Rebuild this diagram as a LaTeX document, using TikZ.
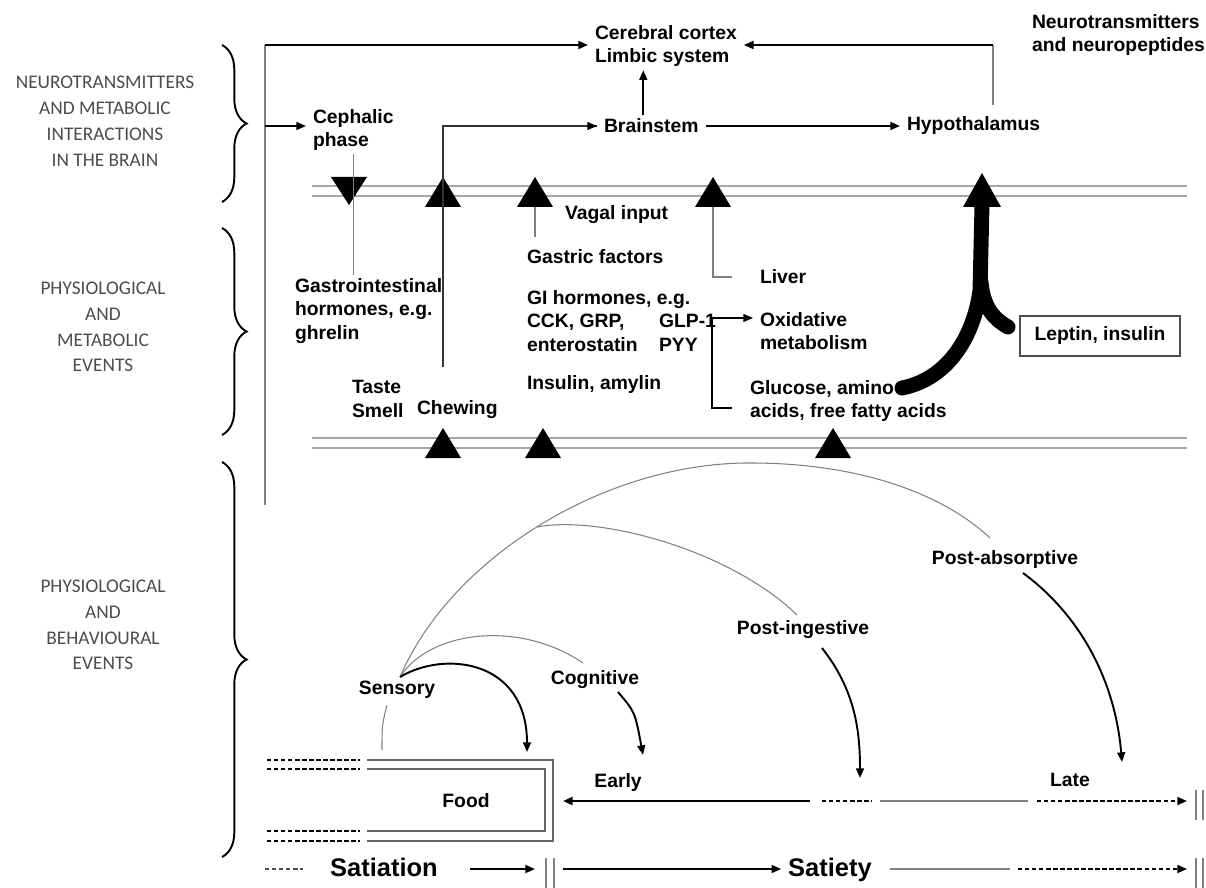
\documentclass[tikz,border=0pt]{standalone}
\usepackage{fontspec}
\setmainfont{Liberation Sans}
\newfontfamily\calibri{Carlito}
\usetikzlibrary{arrows.meta,decorations.pathreplacing}

\tikzset{
  txt/.style={anchor=west, align=left, inner sep=0pt, outer xsep=4pt, outer ysep=2pt, font=\bfseries\fontsize{11}{13.4}\selectfont},
  zone/.style={align=center, inner sep=0pt, text=black!70, font=\calibri\fontsize{11}{14.7}\selectfont},
  gros/.style={anchor=base, inner sep=0pt, outer xsep=4pt, font=\bfseries\fontsize{14.5}{17}\selectfont},
  fil/.style={draw=gray, line width=0.6pt},
  pointe/.style={-{Triangle[length=5.5pt,width=4.5pt]}},
  fleche/.style={line width=1.1pt, pointe},
  accolade/.style={decorate, decoration={brace, amplitude=14pt}, line width=1.1pt},
  membrane/.style={draw=gray!70, line width=0.8pt},
  tirets/.style={line width=1.1pt, dash pattern=on 2.5pt off 1.5pt},
  bord/.style={draw=black!60, line width=0.9pt},
}

\begin{document}
\begin{tikzpicture}[x=0.02cm, y=-0.02cm] % une unite = un pixel de l'image

\useasboundingbox (0,0) rectangle (1206,888);

% les trois niveaux
\draw[accolade] (222,45) -- (222,202);
\draw[accolade] (222,228) -- (222,435);
\draw[accolade] (222,462) -- (222,857);
\node[zone] (cerveau) at (105,121) {NEUROTRANSMITTERS\\AND METABOLIC\\INTERACTIONS\\IN THE BRAIN};
\node[zone] (physio) at (103,327) {PHYSIOLOGICAL\\AND\\METABOLIC\\EVENTS};
\node[zone] (comport) at (103,625) {PHYSIOLOGICAL\\AND\\BEHAVIOURAL\\EVENTS};

% cerveau
\node[txt] (cortex) at (588,46) {Cerebral cortex\\Limbic system};
\node[txt] (neuro) at (1025,35) {Neurotransmitters\\and neuropeptides};
\node[txt] (cephal) at (306,130) {Cephalic\\phase};
\node[txt] (tronc) at (597,126) {Brainstem};
\node[txt] (hypo) at (900,126) {Hypothalamus};

% evenements physiologiques
\node[txt] (vagal) at (558,215) {Vagal input};
\node[txt] (gastric) at (520,257) {Gastric factors};
\node[txt] (foie) at (753,277) {Liver};
\node[txt] (gihorm) at (288,311) {Gastrointestinal\\hormones, e.g.\\ghrelin};
\node[txt] (gi) at (520,321) {GI hormones, e.g.\\CCK, GRP,\\enterostatin};
\node[txt] (glp) at (652,333) {GLP-1\\PYY};
\node[txt] (oxid) at (753,331) {Oxidative\\metabolism};
\node[txt] (glucose) at (743,401) {Glucose, amino\\acids, free fatty acids};
\node[txt] (insulin) at (520,385) {Insulin, amylin};
\node[txt] (gout) at (345,399) {Taste\\Smell};
\node[txt] (mastic) at (410,410) {Chewing};
\node[draw=black!70, line width=0.7pt, minimum width=3.2cm, minimum height=0.8cm, font=\bfseries\fontsize{11}{13.4}\selectfont] (leptin) at (1100,336) {Leptin, insulin};

% evenements comportementaux
\node[txt, anchor=center] (sensory) at (397,690) {Sensory};
\node[txt, anchor=center] (cognitive) at (595,680) {Cognitive};
\node[txt, anchor=center] (postingest) at (803,630) {Post-ingestive};
\node[txt, anchor=center] (postabs) at (1005,559) {Post-absorptive};
\node[txt, anchor=center] (early) at (618,782) {Early};
\node[txt, anchor=center] (late) at (1070,780) {Late};
\node[txt, anchor=center] (food) at (466,801) {Food};
\node[gros] (satiation) at (384,876) {Satiation};
\node[gros] (satiety) at (830,876) {Satiety};

% membranes et triangles
\draw[membrane] (312,186) -- (1187,186) (312,196) -- (1187,196);
\draw[membrane] (312,438) -- (1187,438) (312,448) -- (1187,448);
\fill (331,177) -- (367,177) -- (349,205) -- cycle;
\foreach \x in {443,535,713}
  \fill (\x-18,207) -- (\x,177) -- (\x+18,207) -- cycle;
\foreach \x in {443,543,833}
  \fill (\x-18,458) -- (\x,428) -- (\x+18,458) -- cycle;
\fill (963,207) -- (982,173) -- (1001,207) -- cycle;

% fleches du haut
\coordinate (haut) at (265,45);
\coordinate (bas) at (265,505);
\coordinate (cote) at (265,126);
\coordinate (neurobas) at (993,105);
\draw[fil] (bas) -- (haut);
\draw[fleche] (haut) -- (haut -| cortex.west);
\draw[fleche] (cote) -- (cote -| cephal.west);
\draw[fil] (neurobas) -- (neurobas |- haut);
\draw[fleche] (neurobas |- haut) -- (haut -| cortex.east);
\draw[fleche] ([xshift=-0.16cm]tronc.north) -- ([xshift=-0.16cm]tronc.north |- cortex.south);
\draw[fleche] (tronc.east) -- (hypo.west);

% liaisons verticales
\coordinate (mastichaut) at (443,367);
\draw[line width=0.8pt, draw=black!80] (mastichaut) |- (tronc.west |- cote);
\draw[fleche, line width=0.8pt] (tronc.west |- cote) ++(-2,0) -- (tronc.west |- cote);
\draw[fil] (cephal.south) -- (cephal.south |- gihorm.north);
\coordinate (vag) at (535,237);
\draw[fil] (vag) -- (535,207);
\coordinate (foiefin) at (732,277);
\draw[fil] (713,207) |- (foiefin);
\coordinate (glu) at (732,408);
\coordinate (glp1) at (712,318);
\draw[line width=0.8pt] (glu) -| (glp1);
\draw[fleche, line width=0.8pt] (glp1) -- (glp1 -| oxid.west);

% grosse fleche vers l'hypothalamus
\coordinate (glufin) at (902,388);
\coordinate (lepfin) at (1008,327);
\draw[line width=8.5pt, line cap=round] (glufin) .. controls (952,378) and (975,330) .. (980,290) -- (982,205);
\draw[line width=8.5pt, line cap=round] (lepfin) .. controls (992,318) and (983,305) .. (981,282);

% arcs
\coordinate (s0) at (400,677);
\coordinate (noeud) at (537,527);
\draw[fil] (s0) .. controls (450,560) and (600,465) .. (745,463) .. controls (870,462) and (950,500) .. (990,538);
\draw[fil] (noeud) .. controls (600,515) and (730,550) .. (797,615);
\draw[fil] (s0) .. controls (430,630) and (520,620) .. (583,663);
\draw[fil] (387,705) .. controls (382,725) .. (382,750);
\draw[fleche] (s0) .. controls (445,650) and (527,660) .. (527,752);
\draw[fleche] (618,692) .. controls (635,712) .. (643,755);
\draw[fleche] (822,648) .. controls (855,690) and (860,730) .. (860,778);
\draw[fleche] (1023,573) .. controls (1080,615) and (1115,680) .. (1122,762);

% boite Food
\draw[bord] (367,760) -| (553,841) -- (367,841);
\draw[bord] (367,769) -| (545,831) -- (367,831);
\draw[tirets] (267,760) -- (360,760) (267,769) -- (360,769) (267,831) -- (360,831) (267,841) -- (360,841);

% ligne Early / Late
\coordinate (e1) at (810,801);
\draw[fleche, line width=1.6pt] (e1) -- (563,801);
\draw[tirets] (822,801) -- (872,801);
\draw[fil] (880,801) -- (1028,801);
\draw[tirets, pointe] (1037,801) -- (1187,801);
\draw[fil] (1196,790) -- (1196,820) (1203,790) -- (1203,820);

% ligne Satiation / Satiety
\draw[tirets, draw=black!70] (265,869) -- (303,869);
\coordinate (sa) at (470,869);
\coordinate (sb) at (563,869);
\draw[fleche] (sa) -- (535,869);
\draw[fil] (546,858) -- (546,888) (554,858) -- (554,888);
\draw[fleche] (sb) -- (sb -| satiety.west);
\draw[fil] (890,869) -- (1010,869);
\draw[tirets, pointe] (1018,869) -- (1187,869);
\draw[fil] (1196,858) -- (1196,888) (1203,858) -- (1203,888);

\end{tikzpicture}
\end{document}
